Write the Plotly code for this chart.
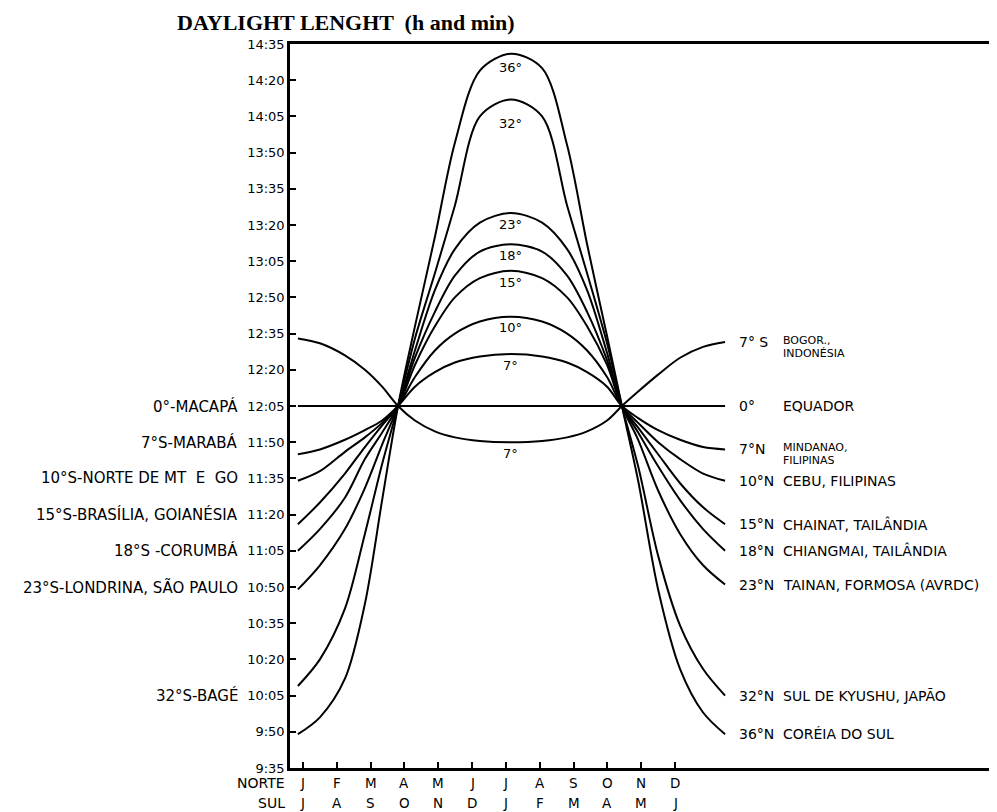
import plotly.graph_objects as go

# ---------------- data ----------------
month_pos = list(range(12))
norte_months = ["J", "F", "M", "A", "M", "J", "J", "A", "S", "O", "N", "D"]
sul_months = ["J", "A", "S", "O", "N", "D", "J", "F", "M", "A", "M", "J"]

y_tick_labels = ["9:35", "9:50", "10:05", "10:20", "10:35", "10:50", "11:05", "11:20",
                 "11:35", "11:50", "12:05", "12:20", "12:35", "12:50", "13:05", "13:20",
                 "13:35", "13:50", "14:05", "14:20", "14:35"]

# sample positions along the year (month units, NORTE calendar)
x_curve = [-0.15, 0.50, 1.24, 1.83, 2.34, 2.81, 3.31, 3.90, 4.49, 5.23, 6.15,
           7.07, 7.81, 8.40, 8.99, 9.43, 9.91, 10.50, 11.15, 11.83, 12.48]

# daylight length in minutes
lat36 = [589, 596, 612, 643, 686, 725, 758, 795, 834, 864, 871, 865, 833, 792, 754, 725, 694, 649, 616, 598, 589]
lat32 = [609, 620, 641, 672, 701, 725, 753, 780, 808, 845, 852, 845, 808, 780, 751, 725, 700, 663, 634, 616, 605]
lat23 = [649, 659, 674, 691, 709, 725, 748, 773, 790, 801, 805, 801, 790, 773, 747, 725, 711, 690, 672, 659, 651]
lat18 = [665, 674, 687, 703, 714, 725, 745, 764, 779, 789, 792, 789, 779, 764, 744, 725, 714, 700, 686, 674, 665]
lat15 = [676, 685, 697, 708, 717, 725, 742, 758, 770, 778, 781, 778, 770, 758, 742, 725, 716, 705, 693, 683, 676]
lat10 = [694, 698, 706, 712, 718, 725, 737, 748, 755, 760, 762, 760, 755, 748, 737, 725, 718, 710, 703, 697, 694]
lat7 = [705, 707, 711, 715, 719, 725, 733, 739, 743, 745.5, 746.5, 745.5, 743, 739, 733, 725, 720, 715, 711, 708, 707]
lat0 = [725, 725, 725, 725, 725, 725, 725, 725, 725, 725, 725, 725, 725, 725, 725, 725, 725, 725, 725, 725, 725]
lat7s = [753, 751, 746, 740, 733, 725, 719, 714.5, 712, 710.5, 710, 710.5, 712, 714.5, 719, 725, 731, 738, 745, 749.5, 751.5]

peak_curves = [lat36, lat32, lat23, lat18, lat15, lat10, lat7]
peak_labels = ["36°", "32°", "23°", "18°", "15°", "10°", "7°"]
peak_label_gap = [14, 24, 12, 11, 12, 11, 11]

left_labels = ["0°-MACAPÁ", "7°S-MARABÁ", "10°S-NORTE DE MT  E  GO", "15°S-BRASÍLIA, GOIANÉSIA",
               "18°S -CORUMBÁ", "23°S-LONDRINA, SÃO PAULO", "32°S-BAGÉ"]
left_label_times = ["12:05", "11:50", "11:35", "11:20", "11:05", "10:50", "10:05"]

right_curves = [lat7s, lat0, lat7, lat10, lat15, lat18, lat23, lat32, lat36]
right_lats = ["7° S", "0°", "7°N", "10°N", "15°N", "18°N", "23°N", "32°N", "36°N"]
right_names = [["BOGOR.,", "INDONÉSIA"], ["EQUADOR"], ["MINDANAO,", "FILIPINAS"], ["CEBU, FILIPINAS"],
               ["CHAINAT, TAILÂNDIA"], ["CHIANGMAI, TAILÂNDIA"], ["TAINAN, FORMOSA (AVRDC)"],
               ["SUL DE KYUSHU, JAPÃO"], ["CORÉIA DO SUL"]]


def to_min(label):
    h, m = label.split(":")
    return int(h) * 60 + int(m)


FONT = "DejaVu Sans"
fig = go.Figure()

for curve in [lat36, lat32, lat23, lat18, lat15, lat10, lat7, lat0, lat7s]:
    fig.add_trace(go.Scatter(x=x_curve, y=curve, mode="lines", hoverinfo="skip",
                             line=dict(color="black", width=2, shape="spline", smoothing=0.9),
                             showlegend=False))

ann = []
# title
ann.append(dict(text="<b>DAYLIGHT LENGHT  (h and min)</b>", xref="paper", yref="paper",
                x=0, y=1, xshift=-115, yshift=22, xanchor="left", yanchor="middle",
                showarrow=False, font=dict(family="Liberation Serif", size=22, color="black")))

# peak labels
for curve, lab, gap in zip(peak_curves, peak_labels, peak_label_gap):
    i = curve.index(max(curve))
    ann.append(dict(text=lab, x=x_curve[i], y=max(curve), yshift=-gap, xanchor="center",
                    yanchor="middle", showarrow=False, font=dict(family=FONT, size=13, color="black")))
i = lat7s.index(min(lat7s))
ann.append(dict(text="7°", x=x_curve[i], y=min(lat7s), yshift=-11, xanchor="center",
                yanchor="middle", showarrow=False, font=dict(family=FONT, size=13, color="black")))

# left labels
for lab, t in zip(left_labels, left_label_times):
    ann.append(dict(text=lab, xref="paper", x=0, xshift=-50, xanchor="right",
                    y=to_min(t), yanchor="middle", showarrow=False,
                    font=dict(family=FONT, size=15, color="black")))

# right labels
for curve, lat, names in zip(right_curves, right_lats, right_names):
    ann.append(dict(text=lat, x=x_curve[-1], xshift=12, xanchor="left", y=curve[-1],
                    yanchor="middle", showarrow=False, font=dict(family=FONT, size=14, color="black")))
    small = len(names) > 1
    for k, nm in enumerate(names):
        ann.append(dict(text=nm, x=x_curve[-1], xshift=56, xanchor="left", y=curve[-1],
                        yshift=(2 - 13 * k) if small else 0, yanchor="middle", showarrow=False,
                        font=dict(family=FONT, size=11 if small else 14, color="black")))

# month rows
for p, nm, sm in zip(month_pos, norte_months, sul_months):
    ann.append(dict(text=nm, x=p, yref="paper", y=0, yshift=-15, xanchor="center", yanchor="middle",
                    showarrow=False, font=dict(family=FONT, size=13.5, color="black")))
    ann.append(dict(text=sm, x=p, yref="paper", y=0, yshift=-35, xanchor="center", yanchor="middle",
                    showarrow=False, font=dict(family=FONT, size=13.5, color="black")))
ann.append(dict(text="NORTE", xref="paper", x=0, xshift=-3, xanchor="right", yref="paper", y=0,
                yshift=-15, yanchor="middle", showarrow=False, font=dict(family=FONT, size=14, color="black")))
ann.append(dict(text="SUL", xref="paper", x=0, xshift=-3, xanchor="right", yref="paper", y=0,
                yshift=-35, yanchor="middle", showarrow=False, font=dict(family=FONT, size=14, color="black")))

# page body has an 8px margin: size the figure so it fits the 997x812 window
fig.update_layout(
    width=989, height=804,
    margin=dict(l=282, r=0, t=36, b=44),
    paper_bgcolor="white", plot_bgcolor="white",
    annotations=ann,
    xaxis=dict(range=[-0.384, 20.52], tickvals=month_pos, showticklabels=False, ticks="inside",
               ticklen=6, tickwidth=1.5, tickcolor="black", showgrid=False, zeroline=False,
               showline=True, linecolor="black", linewidth=2.5, mirror=True),
    yaxis=dict(range=[575, 875], tickvals=[to_min(t) for t in y_tick_labels], ticktext=y_tick_labels,
               ticks="inside", ticklen=6, tickwidth=1.5, tickcolor="black", showgrid=False,
               zeroline=False, showline=True, linecolor="black", linewidth=2.5,
               tickfont=dict(family=FONT, size=13, color="black")),
)

fig.write_html("out.html")
